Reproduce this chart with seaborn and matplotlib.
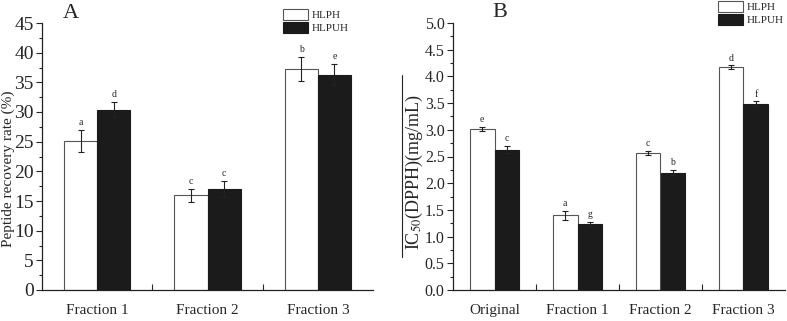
import pandas as pd
import matplotlib.pyplot as plt
import seaborn as sns
from matplotlib.patches import Patch
from matplotlib.lines import Line2D
from matplotlib.ticker import MultipleLocator, FormatStrFormatter

# 数据
groups = ['HLPH', 'HLPUH']

frac_a = ['Fraction 1', 'Fraction 2', 'Fraction 3']
rec_hlph = [25.1, 16.0, 37.3]
rec_hlph_err = [1.8, 1.1, 2.0]
rec_hlpuh = [30.4, 17.0, 36.3]
rec_hlpuh_err = [1.3, 1.3, 1.8]
let_a_hlph = ['a', 'c', 'b']
let_a_hlpuh = ['d', 'c', 'e']

frac_b = ['Original', 'Fraction 1', 'Fraction 2', 'Fraction 3']
ic_hlph = [3.01, 1.40, 2.57, 4.17]
ic_hlph_err = [0.04, 0.08, 0.04, 0.04]
ic_hlpuh = [2.63, 1.24, 2.20, 3.49]
ic_hlpuh_err = [0.07, 0.04, 0.05, 0.04]
let_b_hlph = ['e', 'a', 'c', 'd']
let_b_hlpuh = ['c', 'g', 'b', 'f']

sns.set_theme(style="ticks")
plt.rcParams['font.family'] = ['Liberation Serif', 'DejaVu Serif']
plt.rcParams['mathtext.fontset'] = 'stix'

palette = {'HLPH': 'white', 'HLPUH': '#1b1b1b'}
edges = {'HLPH': '#555555', 'HLPUH': '#1b1b1b'}

W, H = 787, 321
fig = plt.figure(figsize=(7.87, 3.21), dpi=100)
ax_a = fig.add_axes([42 / W, 31 / H, 331 / W, 267 / H])
ax_b = fig.add_axes([453 / W, 31 / H, 332 / W, 267 / H])


def panel(ax, cats, v1, e1, v2, e2, l1, l2, ymax, ystep, fmt, tick_fs, lab_off):
    df = pd.DataFrame({
        'cat': cats * 2,
        'grp': [groups[0]] * len(cats) + [groups[1]] * len(cats),
        'val': v1 + v2,
    })
    sns.barplot(data=df, x='cat', y='val', hue='grp', order=cats, hue_order=groups,
                palette=palette, width=0.6, gap=0, errorbar=None, legend=False,
                linewidth=0.8, saturation=1, ax=ax)
    errs = [e1, e2]
    lets = [l1, l2]
    bar_conts = list(ax.containers)
    for gi, cont in enumerate(bar_conts):
        for bi, bar in enumerate(cont.patches):
            bar.set_edgecolor(edges[groups[gi]])
            xc = bar.get_x() + bar.get_width() / 2
            h = bar.get_height()
            ax.errorbar(xc, h, yerr=errs[gi][bi], fmt='none', ecolor='#222222',
                        elinewidth=0.8, capsize=2.5, capthick=0.8)
            ax.text(xc, h + errs[gi][bi] + lab_off, lets[gi][bi], ha='center',
                    va='bottom', fontsize=7)
    ax.set_xlim(-0.5, len(cats) - 0.5)
    ax.set_ylim(0, ymax)
    ax.set_xlabel('')
    ax.yaxis.set_major_locator(MultipleLocator(ystep))
    ax.yaxis.set_minor_locator(MultipleLocator(ystep / 2))
    ax.yaxis.set_major_formatter(FormatStrFormatter(fmt))
    ax.tick_params(axis='y', which='major', direction='out', length=4, width=0.8,
                   labelsize=tick_fs, pad=2)
    ax.tick_params(axis='y', which='minor', direction='out', length=2, width=0.8)
    ax.tick_params(axis='x', which='major', length=0, labelsize=11, pad=10)
    ax.set_xticks([i + 0.5 for i in range(len(cats) - 1)], minor=True)
    ax.tick_params(axis='x', which='minor', direction='in', length=4, width=0.8)
    for s in ['top', 'right']:
        ax.spines[s].set_visible(False)
    for s in ['left', 'bottom']:
        ax.spines[s].set_linewidth(0.9)
        ax.spines[s].set_color('#222222')
    handles = [Patch(facecolor=palette[g], edgecolor=edges[g], linewidth=0.8, label=g)
               for g in groups]
    return handles


leg_kw = dict(loc='upper left', frameon=False, fontsize=8, handlelength=2.25,
              handleheight=1.1, handletextpad=0.35, labelspacing=0.2,
              borderpad=0, borderaxespad=0, bbox_transform=fig.transFigure)

h = panel(ax_a, frac_a, rec_hlph, rec_hlph_err, rec_hlpuh, rec_hlpuh_err,
          let_a_hlph, let_a_hlpuh, 45, 5, '%d', 14, 0.5)
ax_a.set_ylabel('Peptide recovery rate (%)', fontsize=11)
ax_a.yaxis.set_label_coords(-0.082, 0.453)
ax_a.legend(handles=h, bbox_to_anchor=(283 / W, 1 - 9 / H), **leg_kw)
fig.text(63 / W, 1 - 18 / H, 'A', fontsize=16, va='baseline')

h = panel(ax_b, frac_b, ic_hlph, ic_hlph_err, ic_hlpuh, ic_hlpuh_err,
          let_b_hlph, let_b_hlpuh, 5.0, 0.5, '%.1f', 11.5, 0.05)
ax_b.set_ylabel('IC$_{50}$(DPPH)(mg/mL)', fontsize=13)
ax_b.yaxis.set_label_coords(-0.083, 0.44)
ax_b.legend(handles=h, bbox_to_anchor=(718 / W, 1 - 1 / H), **leg_kw)
fig.text(492 / W, 1 - 17 / H, 'B', fontsize=16, va='baseline')

# 纵轴标题左侧的竖线
fig.add_artist(Line2D([402 / W, 402 / W], [1 - 75 / H, 1 - 257 / H],
                      color='#222222', lw=0.8))

fig.savefig('out.png', dpi=100)
